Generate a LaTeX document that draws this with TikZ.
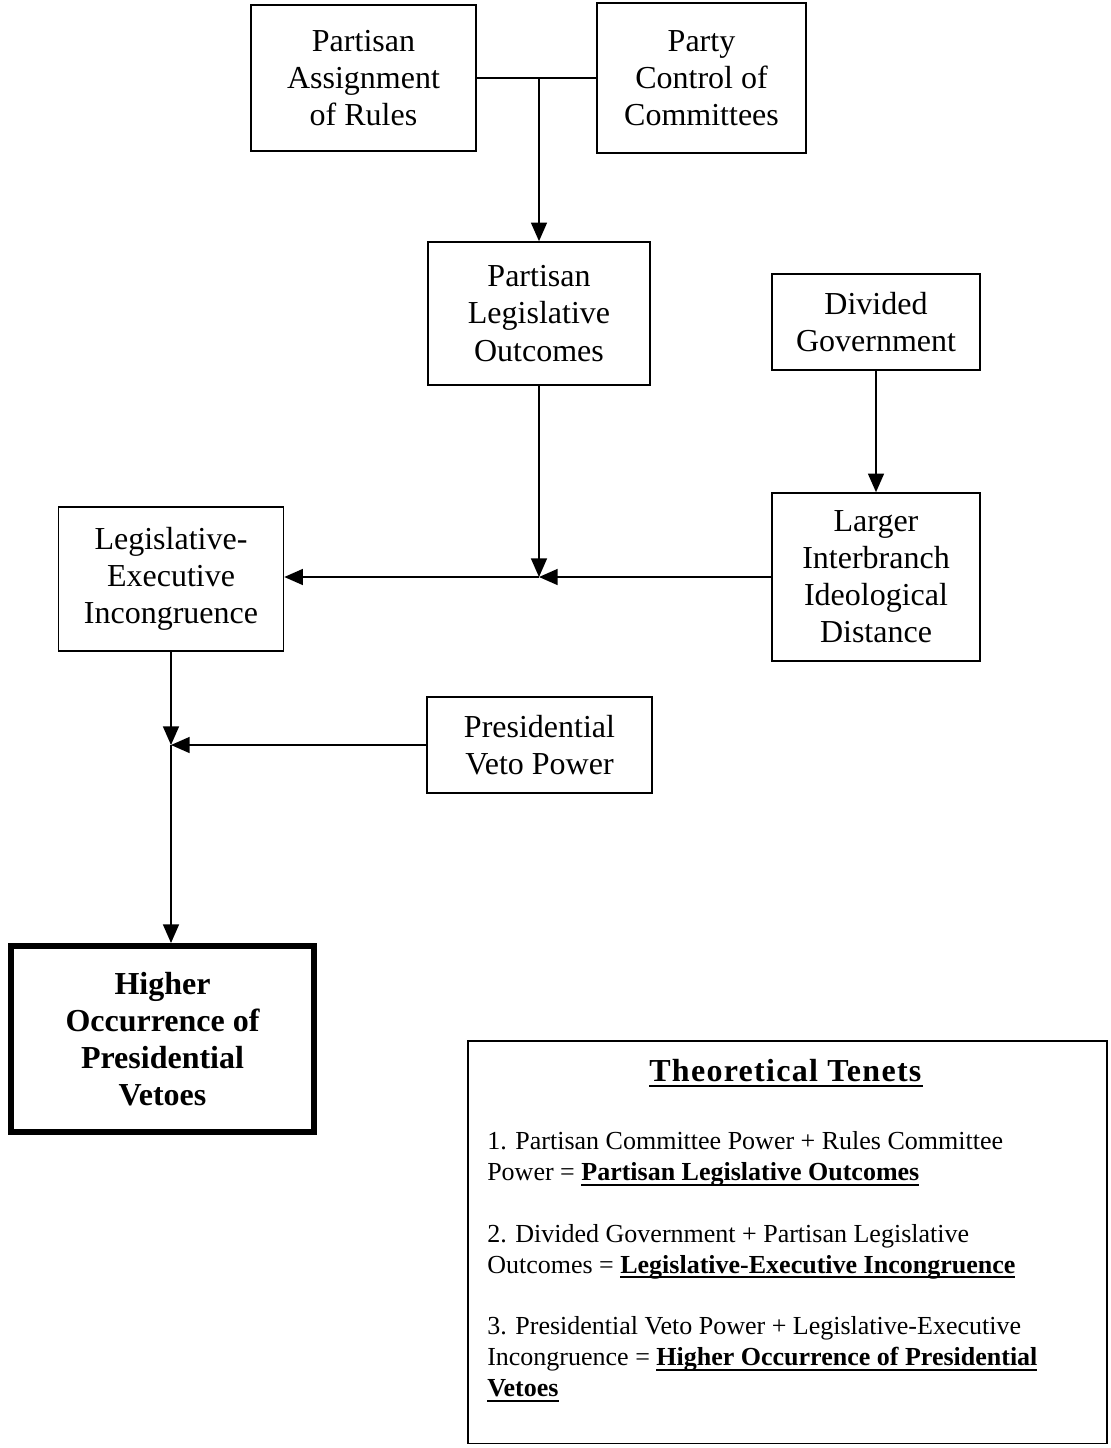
\documentclass[tikz,border=0pt]{standalone}
\usepackage{fontspec}
\setmainfont{Liberation Serif}
\usetikzlibrary{arrows.meta}

\newsavebox{\tenetbox}
\newcommand{\tenetul}[1]{\sbox{\tenetbox}{\textbf{#1}}\rlap{\rule[-4pt]{\wd\tenetbox}{1.5pt}}\usebox{\tenetbox}}

\tikzset{
    factor/.style={draw, line width=1.2pt, align=center, inner sep=0pt, font=\fontsize{24}{27.8}\selectfont},
    outcome/.style={factor, line width=4.8pt, font=\fontsize{24}{27.8}\selectfont\bfseries},
    link/.style={line width=1.2pt, -{Triangle[length=14pt,width=12pt]}},
    joint/.style={line width=1.2pt}
}

\begin{document}
\begin{tikzpicture}[x=0.75pt, y=-0.75pt]
                    \useasboundingbox (0,0) rectangle (1110,1448);

                    \node[factor, minimum width=168.75pt, minimum height=109.5pt] (rules) at (363.5,78) {Partisan\\Assignment\\of Rules};
                    \node[factor, minimum width=156.75pt, minimum height=112.5pt] (committees) at (701.5,78) {Party\\Control of\\Committees};
                    \node[factor, minimum width=166.5pt, minimum height=107.25pt] (outcomes) at (539,313.5) {Partisan\\Legislative\\Outcomes};
                    \node[factor, minimum width=156pt, minimum height=72pt] (divided) at (876,322) {Divided\\Government};
                    \node[factor, minimum width=156pt, minimum height=126pt] (distance) at (876,577) {Larger\\Interbranch\\Ideological\\Distance};
                    \node[factor, minimum width=168.75pt, minimum height=108pt] (incong) at (171,579) {Legislative-\\Executive\\Incongruence};
                    \node[factor, minimum width=168.75pt, minimum height=72pt] (veto) at (539.5,745) {Presidential\\Veto Power};
                    \node[outcome, minimum width=227pt, minimum height=139.2pt] (vetoes) at (162.5,1039) {Higher\\Occurrence of\\Presidential\\Vetoes};

                    \coordinate (jtop) at (539,78);
                    \coordinate (jmid) at (539,577);
                    \coordinate (jlow) at (171,745);

                    \draw[joint] (rules.east) -- (committees.west);
                    \draw[link] (jtop) -- (outcomes.north);
                    \draw[link] (divided) -- (distance);
                    \draw[link] (outcomes) -- (jmid);
                    \draw[link] (distance.west) -- (jmid);
                    \draw[link] (jmid) -- (incong.east |- jmid);
                    \draw[link] (incong) -- (jlow);
                    \draw[link] (veto.west |- jlow) -- (jlow);
                    \draw[link] (jlow) -- (jlow |- vetoes.north);

                    \node[draw, line width=1.2pt, minimum width=479.25pt, minimum height=302pt, anchor=north west, inner sep=0pt] (tenets) at (467,1040) {};
                    \node[font=\fontsize{24}{28}\selectfont\bfseries\addfontfeature{LetterSpace=4}] (tenettitle) at (786,1073) {\tenetul{Theoretical Tenets}};
                    \node[anchor=north west, align=left, inner sep=0pt, font=\fontsize{19.5}{23.2}\selectfont] (tenetlist) at (487,1131) {1. Partisan Committee Power + Rules Committee\\
                                                    Power = \tenetul{Partisan Legislative Outcomes}\\[23.2pt]
                                                    2. Divided Government + Partisan Legislative\\
                                                    Outcomes = \tenetul{Legislative-Executive Incongruence}\\[23.2pt]
                                                    3. Presidential Veto Power + Legislative-Executive\\
                                                    Incongruence = \tenetul{Higher Occurrence of Presidential}\\
                                                    \tenetul{Vetoes}};

                \end{tikzpicture}
\end{document}
